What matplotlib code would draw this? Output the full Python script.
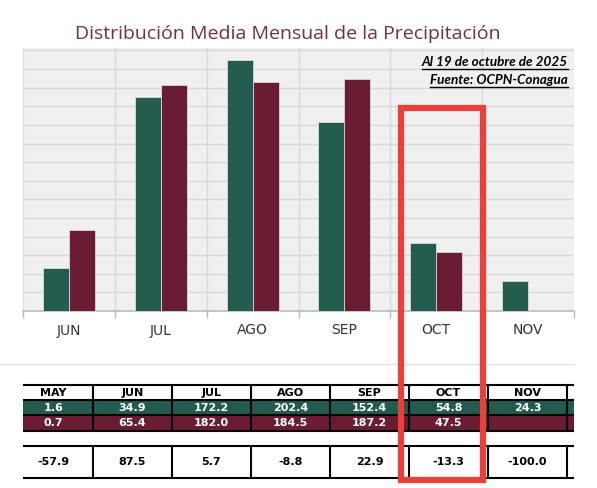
import numpy as np
import matplotlib.pyplot as plt
from matplotlib.patches import Rectangle
from matplotlib.lines import Line2D

# datos (mm)
meses_tabla = ["MAY", "JUN", "JUL", "AGO", "SEP", "OCT", "NOV"]
normal = [1.6, 34.9, 172.2, 202.4, 152.4, 54.8, 24.3]
actual = [0.7, 65.4, 182.0, 184.5, 187.2, 47.5, None]
diferencia = [-57.9, 87.5, 5.7, -8.8, 22.9, -13.3, -100.0]

meses_graf = meses_tabla[1:]
normal_graf = normal[1:]
actual_graf = [np.nan if v is None else v for v in actual[1:]]

VERDE = "#235b4e"
GUINDA = "#691c32"

W, H = 597, 488
fig = plt.figure(figsize=(W / 100, H / 100), dpi=100)
fig.patch.set_facecolor("white")


def ejes_px(izq, arr, der, aba):
    # ejes ubicados en pixeles de la imagen
    return fig.add_axes([izq / W, 1 - aba / H, (der - izq) / W, (aba - arr) / H])


# ---- grafica de barras ----
ax = ejes_px(23, 48, 574, 311)
ax.set_facecolor("#f0f0f0")
x = np.arange(len(meses_graf))
ancho = 0.283
ax.bar(x - ancho / 2, normal_graf, ancho, color=VERDE, edgecolor="#e8e8e8", linewidth=0.5, zorder=3)
ax.bar(x + ancho / 2, actual_graf, ancho, color=GUINDA, edgecolor="#e8e8e8", linewidth=0.5, zorder=3)
ax.set_xlim(-0.5, len(meses_graf) - 0.5)
ax.set_ylim(0, 212)
ax.set_yticks(np.arange(15, 211, 15))
ax.set_yticklabels([])
ax.tick_params(axis="y", length=0)
ax.grid(axis="y", color="#d9d9d9", linewidth=1, zorder=0)
for b in np.arange(0.5, len(meses_graf) - 0.5, 1):
    ax.axvline(b, color="#d9d9d9", linewidth=1, zorder=0)
ax.set_xticks(np.arange(-0.5, len(meses_graf), 1))
ax.set_xticklabels([])
ax.set_xticks(x, minor=True)
ax.set_xticklabels(meses_graf, minor=True, fontsize=10, family="DejaVu Sans", color="#333333")
ax.tick_params(axis="x", which="major", length=5, color="#bbbbbb", width=1)
ax.tick_params(axis="x", which="minor", length=0, pad=9)
for s in ["top", "right"]:
    ax.spines[s].set_visible(False)
ax.spines["left"].set_color("#dddddd")
ax.spines["bottom"].set_color("#bbbbbb")
ax.spines["bottom"].set_linewidth(1.2)

fig.text(75 / W, 1 - 34 / H, "Distribución Media Mensual de la Precipitación",
         fontsize=14, family="Open Sans", color="#732f45", va="center", ha="left")

# linea tenue al pie de la grafica
fig.add_artist(Line2D([0, 574 / W], [1 - 364 / H, 1 - 364 / H], transform=fig.transFigure,
                      color="#e4e4e4", linewidth=1))

# ---- tabla ----
tb = ejes_px(23, 383, 574, 482)
tb.set_xlim((23 - 14) / 79, (574 - 14) / 79)
tb.set_ylim(482, 383)
tb.axis("off")
n = len(meses_tabla) + 1
filas = [(385, 400, "white", "black", meses_tabla),
         (400, 415, VERDE, "white", normal),
         (415, 431, GUINDA, "white", actual)]
for arr, aba, fondo, ctexto, valores in filas:
    tb.add_patch(Rectangle((0, arr), n, aba - arr, facecolor=fondo, edgecolor="none"))
    for i, v in enumerate(valores):
        if v is None:
            continue
        etiqueta = v if isinstance(v, str) else f"{v:.1f}"
        tb.text(i + 0.5, (arr + aba) / 2 + 0.5, etiqueta, ha="center", va="center",
                fontsize=8, fontweight="bold", family="DejaVu Sans", color=ctexto)
tb.hlines([385, 400, 415, 431], 0, n, color="black", linewidth=1.5)
tb.vlines(np.arange(1, n), 385, 431, color="black", linewidth=1.5)
# fila de diferencia
tb.hlines([446, 478], 0, n, color="black", linewidth=1.5)
tb.vlines(np.arange(1, n), 446, 478, color="black", linewidth=1.5)
for i, v in enumerate(diferencia):
    tb.text(i + 0.5, 462.5, f"{v:.1f}", ha="center", va="center",
            fontsize=8, fontweight="bold", family="DejaVu Sans", color="black")

# ---- recuadro rojo sobre OCT ----
fig.add_artist(Rectangle((401 / W, 1 - 480 / H), 81.5 / W, 372 / H, transform=fig.transFigure,
                         fill=False, edgecolor="#e8403b", linewidth=4.5, zorder=10))

# ---- notas subrayadas ----
renderer = fig.canvas.get_renderer()
for yy, txt in [(62, "Al 19 de octubre de 2025"), (80, "Fuente: OCPN-Conagua")]:
    t = fig.text(568 / W, 1 - yy / H, txt, ha="right", va="center", fontsize=9.7,
                 family="Lato", fontweight="bold", style="italic", color="black")
    bb = t.get_window_extent(renderer)
    yl = (bb.y0 - 1) / H
    fig.add_artist(Line2D([bb.x0 / W, bb.x1 / W], [yl, yl], transform=fig.transFigure,
                          color="black", linewidth=1))

fig.savefig("out.png", dpi=100)
